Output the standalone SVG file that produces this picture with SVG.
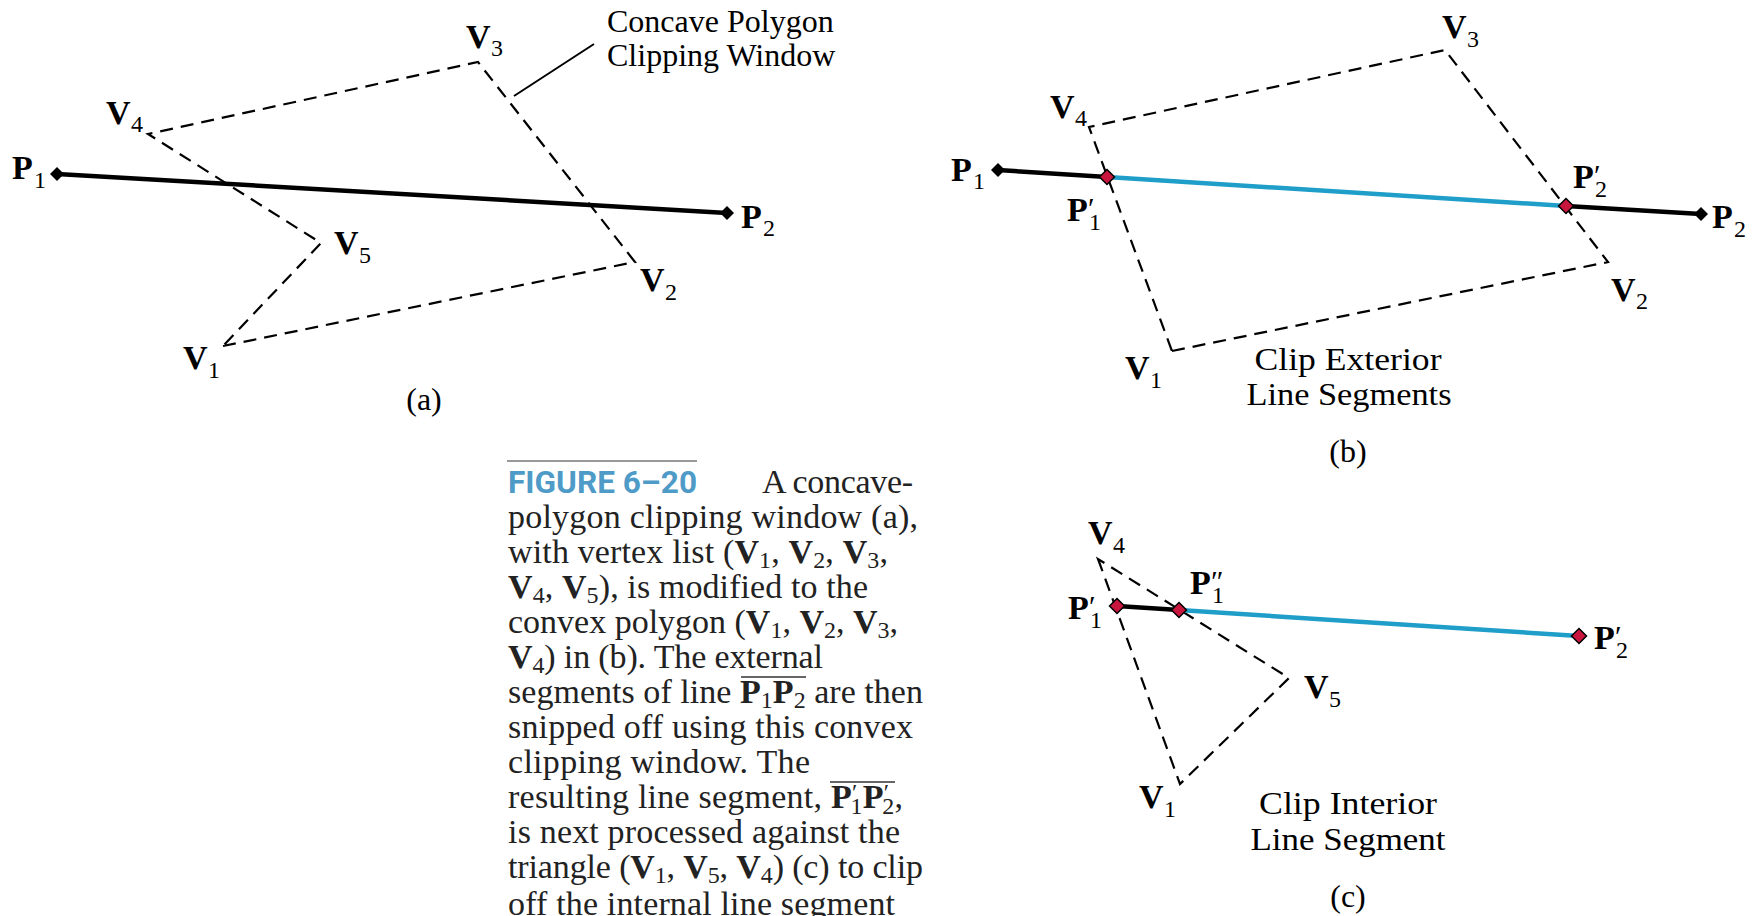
<svg xmlns="http://www.w3.org/2000/svg" xmlns:xlink="http://www.w3.org/1999/xlink" width="1756" height="916" viewBox="0 0 1756 916">
<style>
.dash{fill:none;stroke:#000;stroke-width:2.2;stroke-dasharray:13 8}
.seg{fill:none;stroke:#000;stroke-width:4.5}
.blu{fill:none;stroke:#1e9ec8;stroke-width:4.5}
.lb{font-family:"Liberation Serif",serif;font-weight:bold;font-size:34px;fill:#000}
.sb{font-family:"Liberation Serif",serif;font-weight:normal;font-size:24px;fill:#000}
.pr{font-family:"Liberation Serif",serif;font-weight:normal;font-size:30px;fill:#000}
.txt{font-family:"Liberation Serif",serif;font-size:32px;fill:#000}
.cap{font-family:"Liberation Serif",serif;font-size:34px;fill:#222}
.b{font-weight:bold}
.s{font-size:24px}
.fig{font-family:Roboto,"Liberation Sans",sans-serif;font-weight:bold;font-size:31px;fill:#4f9bc8}
</style>
<defs>
<path id="dk" d="M0,-7 L7,0 L0,7 L-7,0Z" fill="#000"/>
<path id="dr" d="M0,-7.5 L7.5,0 L0,7.5 L-7.5,0Z" fill="#c8163e" stroke="#000" stroke-width="1.5"/>
</defs>
<rect width="1756" height="916" fill="#fff"/>

<g id="connectors">
<polygon class="dash" points="223,346 635,262 478,62 148,134 321,243"/>
<line class="seg" x1="57" y1="174" x2="727" y2="213"/>
<line x1="514" y1="96" x2="594" y2="44" stroke="#000" stroke-width="2"/>
<polygon class="dash" points="1172,351 1608,262 1445,50 1089,127"/>
<line class="seg" x1="998" y1="170" x2="1107" y2="177"/>
<line class="blu" x1="1107" y1="177" x2="1566" y2="206"/>
<line class="seg" x1="1566" y1="206" x2="1701" y2="214"/>
<polygon class="dash" points="1098,559 1180,784 1289,678"/>
<line class="seg" x1="1117" y1="606" x2="1179" y2="610"/>
<line class="blu" x1="1179" y1="610" x2="1579" y2="636"/>
</g>

<g id="points">
<use xlink:href="#dk" x="57" y="174"/>
<use xlink:href="#dk" x="727" y="213"/>
<use xlink:href="#dk" x="998" y="170"/>
<use xlink:href="#dk" x="1701" y="214"/>
<use xlink:href="#dr" x="1107" y="177"/>
<use xlink:href="#dr" x="1566" y="206"/>
<use xlink:href="#dr" x="1117" y="606"/>
<use xlink:href="#dr" x="1179" y="610"/>
<use xlink:href="#dr" x="1579" y="636"/>
</g>

<g id="a-P1"><text class="lb" x="12" y="179">P</text><text class="sb" x="34" y="188">1</text></g>
<g id="a-V4"><text class="lb" x="106" y="124">V</text><text class="sb" x="131" y="132">4</text></g>
<g id="a-V3"><text class="lb" x="466" y="48">V</text><text class="sb" x="491" y="56">3</text></g>
<g id="a-V5"><text class="lb" x="334" y="254">V</text><text class="sb" x="359" y="263">5</text></g>
<g id="a-V2"><text class="lb" x="640" y="291">V</text><text class="sb" x="665" y="300">2</text></g>
<g id="a-V1"><text class="lb" x="183" y="369">V</text><text class="sb" x="208" y="378">1</text></g>
<g id="a-P2"><text class="lb" x="741" y="228">P</text><text class="sb" x="763" y="236">2</text></g>
<g id="a-window"><text class="txt" x="607" y="32">Concave Polygon</text><text class="txt" x="607" y="66">Clipping Window</text></g>
<g id="a-caption"><text class="txt" x="424" y="410" text-anchor="middle">(a)</text></g>

<g id="b-P1"><text class="lb" x="951" y="181">P</text><text class="sb" x="973" y="189">1</text></g>
<g id="b-V4"><text class="lb" x="1050" y="118">V</text><text class="sb" x="1075" y="126">4</text></g>
<g id="b-V3"><text class="lb" x="1442" y="38">V</text><text class="sb" x="1467" y="47">3</text></g>
<g id="b-P2p"><text class="lb" x="1573" y="188">P</text><text class="pr" x="1594" y="185">′</text><text class="sb" x="1595" y="197">2</text></g>
<g id="b-P1p"><text class="lb" x="1067" y="221">P</text><text class="pr" x="1088" y="218">′</text><text class="sb" x="1089" y="230">1</text></g>
<g id="b-P2"><text class="lb" x="1712" y="228">P</text><text class="sb" x="1734" y="237">2</text></g>
<g id="b-V2"><text class="lb" x="1611" y="301">V</text><text class="sb" x="1636" y="309">2</text></g>
<g id="b-V1"><text class="lb" x="1125" y="379">V</text><text class="sb" x="1150" y="388">1</text></g>
<g id="b-note"><text class="txt" x="1348" y="370" text-anchor="middle" textLength="187" lengthAdjust="spacingAndGlyphs">Clip Exterior</text><text class="txt" x="1349" y="405" text-anchor="middle" textLength="205" lengthAdjust="spacingAndGlyphs">Line Segments</text></g>
<g id="b-caption"><text class="txt" x="1348" y="462" text-anchor="middle">(b)</text></g>

<g id="c-V4"><text class="lb" x="1088" y="544">V</text><text class="sb" x="1113" y="553">4</text></g>
<g id="c-P1pp"><text class="lb" x="1190" y="594">P</text><text class="pr" x="1211" y="591">″</text><text class="sb" x="1212" y="603">1</text></g>
<g id="c-P1p"><text class="lb" x="1068" y="619">P</text><text class="pr" x="1089" y="616">′</text><text class="sb" x="1090" y="628">1</text></g>
<g id="c-P2p"><text class="lb" x="1594" y="649">P</text><text class="pr" x="1615" y="646">′</text><text class="sb" x="1616" y="658">2</text></g>
<g id="c-V5"><text class="lb" x="1304" y="698">V</text><text class="sb" x="1329" y="707">5</text></g>
<g id="c-V1"><text class="lb" x="1139" y="808">V</text><text class="sb" x="1164" y="817">1</text></g>
<g id="c-note"><text class="txt" x="1348" y="814" text-anchor="middle" textLength="178" lengthAdjust="spacingAndGlyphs">Clip Interior</text><text class="txt" x="1348" y="850" text-anchor="middle" textLength="195" lengthAdjust="spacingAndGlyphs">Line Segment</text></g>
<g id="c-caption"><text class="txt" x="1348" y="907" text-anchor="middle">(c)</text></g>

<g id="figure-caption">
<line x1="507" y1="461" x2="697" y2="461" stroke="#777" stroke-width="1.5"/>
<text class="fig" x="508" y="493" textLength="189" lengthAdjust="spacingAndGlyphs">FIGURE 6–20</text>
<text class="cap" x="762" y="493" textLength="151" lengthAdjust="spacing">A concave-</text>
<text class="cap" x="508" y="528" textLength="410" lengthAdjust="spacing">polygon clipping window (a),</text>
<text class="cap" x="508" y="563" textLength="380" lengthAdjust="spacing">with vertex list (<tspan class="b">V</tspan><tspan class="s" dy="5">1</tspan><tspan dy="-5">, </tspan><tspan class="b">V</tspan><tspan class="s" dy="5">2</tspan><tspan dy="-5">, </tspan><tspan class="b">V</tspan><tspan class="s" dy="5">3</tspan><tspan dy="-5">,</tspan></text>
<text class="cap" x="508" y="598" textLength="360" lengthAdjust="spacing"><tspan class="b">V</tspan><tspan class="s" dy="5">4</tspan><tspan dy="-5">, </tspan><tspan class="b">V</tspan><tspan class="s" dy="5">5</tspan><tspan dy="-5">), is modified to the</tspan></text>
<text class="cap" x="508" y="633" textLength="390" lengthAdjust="spacing">convex polygon (<tspan class="b">V</tspan><tspan class="s" dy="5">1</tspan><tspan dy="-5">, </tspan><tspan class="b">V</tspan><tspan class="s" dy="5">2</tspan><tspan dy="-5">, </tspan><tspan class="b">V</tspan><tspan class="s" dy="5">3</tspan><tspan dy="-5">,</tspan></text>
<text class="cap" x="508" y="668" textLength="315" lengthAdjust="spacing"><tspan class="b">V</tspan><tspan class="s" dy="5">4</tspan><tspan dy="-5">) in (b). The external</tspan></text>
<text class="cap" x="508" y="703" textLength="415" lengthAdjust="spacing">segments of line <tspan class="b">P</tspan><tspan class="s" dy="5">1</tspan><tspan class="b" dy="-5">P</tspan><tspan class="s" dy="5">2</tspan><tspan dy="-5"> are then</tspan></text>
<line x1="741" y1="677" x2="806" y2="677" stroke="#333" stroke-width="1.5"/>
<text class="cap" x="508" y="738" textLength="405" lengthAdjust="spacing">snipped off using this convex</text>
<text class="cap" x="508" y="773" textLength="302" lengthAdjust="spacing">clipping window. The</text>
<text class="cap" x="508" y="808" textLength="395" lengthAdjust="spacing">resulting line segment, <tspan class="b">P</tspan><tspan class="s" dy="-8">′</tspan><tspan class="s" dx="-7" dy="14">1</tspan><tspan class="b" dy="-6">P</tspan><tspan class="s" dy="-8">′</tspan><tspan class="s" dx="-7" dy="14">2</tspan><tspan dy="-6">,</tspan></text>
<line x1="830" y1="782" x2="895" y2="782" stroke="#333" stroke-width="1.5"/>
<text class="cap" x="508" y="843" textLength="392" lengthAdjust="spacing">is next processed against the</text>
<text class="cap" x="508" y="878" textLength="415" lengthAdjust="spacing">triangle (<tspan class="b">V</tspan><tspan class="s" dy="5">1</tspan><tspan dy="-5">, </tspan><tspan class="b">V</tspan><tspan class="s" dy="5">5</tspan><tspan dy="-5">, </tspan><tspan class="b">V</tspan><tspan class="s" dy="5">4</tspan><tspan dy="-5">) (c) to clip</tspan></text>
<text class="cap" x="508" y="915" textLength="387" lengthAdjust="spacing">off the internal line segment</text>
</g>
</svg>
